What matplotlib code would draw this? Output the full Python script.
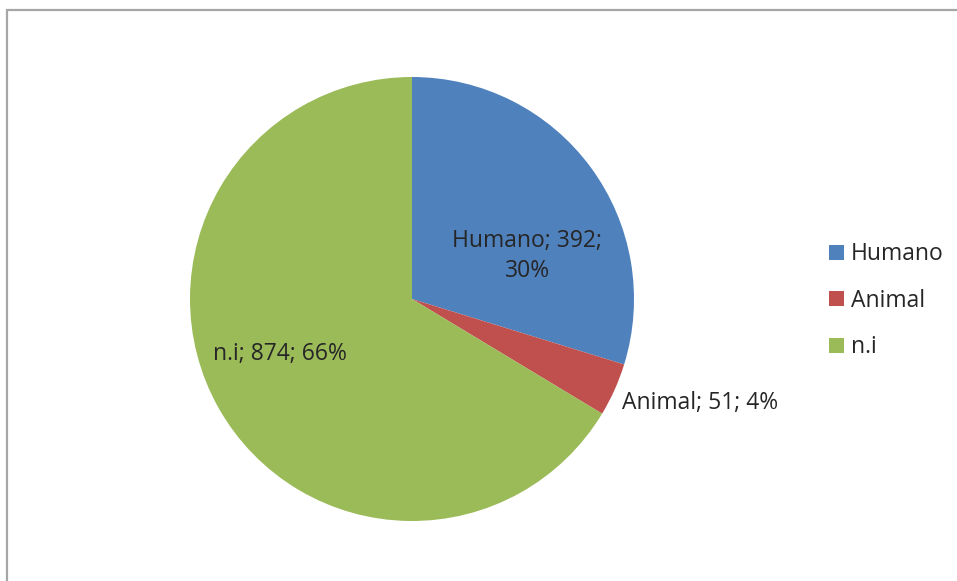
import matplotlib
matplotlib.use("Agg")
import matplotlib.pyplot as plt
from matplotlib.patches import Rectangle, Patch

categories = ["Humano", "Animal", "n.i"]
values = [392, 51, 874]
percents = ["30%", "4%", "66%"]
colors = ["#4F81BD", "#C0504D", "#9BBB59"]

plt.rcParams['font.family'] = ['Open Sans', 'DejaVu Sans']
W, H = 957, 581
fig = plt.figure(figsize=(W/100, H/100), dpi=100)
fig.patch.set_facecolor("white")

cx, cy, r = 412, 299, 222
ax = fig.add_axes([(cx - r)/W, (H - cy - r)/H, 2*r/W, 2*r/H])
ax.pie(values, colors=colors, startangle=90, counterclock=False, radius=1,
       wedgeprops=dict(linewidth=0))
ax.set_xlim(-1, 1)
ax.set_ylim(-1, 1)
ax.set_aspect('equal')
ax.axis('off')

txtc = "#262626"
fs = 16.5
label_pos = [(0.52, 0.194), (1.297, -0.468), (-0.595, -0.248)]
label_txt = [f"{categories[0]}; {values[0]};\n{percents[0]}",
             f"{categories[1]}; {values[1]}; {percents[1]}",
             f"{categories[2]}; {values[2]}; {percents[2]}"]
for (x, y), t in zip(label_pos, label_txt):
    ax.text(x, y, t, ha='center', va='center', fontsize=fs, color=txtc,
            linespacing=1.38, clip_on=False)

handles = [Patch(facecolor=c, edgecolor='none') for c in colors]
fig.legend(handles, categories, loc='upper left',
           bbox_to_anchor=(818/W, 1 - 231/H), frameon=False, fontsize=fs,
           handlelength=0.62, handleheight=0.62, handletextpad=0.3,
           labelspacing=0.98, labelcolor=txtc, borderpad=0)

fig.patches.append(Rectangle((7.5/W, -0.05), 1.2, 1 - 10.5/H + 0.05,
                             transform=fig.transFigure, fill=False,
                             edgecolor="#A6A6A6", linewidth=1.6))

fig.savefig("out.png", dpi=100, facecolor="white")
